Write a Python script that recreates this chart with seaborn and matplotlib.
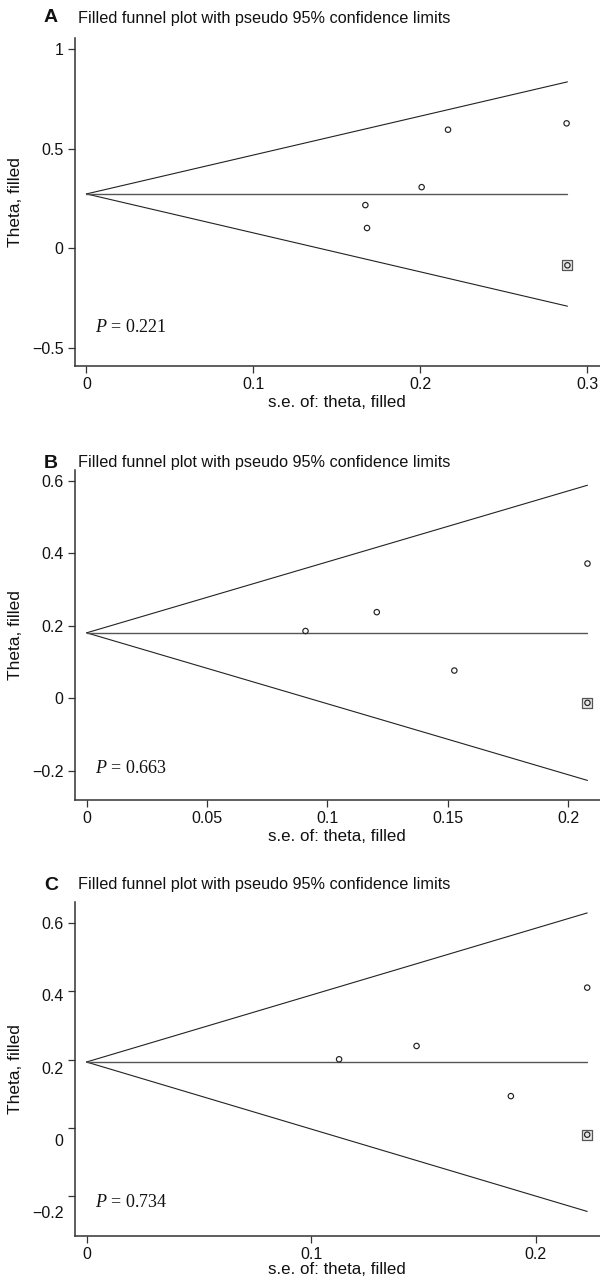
import matplotlib
matplotlib.use("Agg")
import matplotlib.pyplot as plt
import matplotlib.transforms as mtransforms
import pandas as pd
import seaborn as sns

# panel letters and P values
panel_letters = ["A", "B", "C"]
p_values = ["0.221", "0.663", "0.734"]

# observed studies (se, theta)
a_se = [0.167, 0.168, 0.2007, 0.2165, 0.2875]
a_theta = [0.217, 0.102, 0.307, 0.595, 0.627]
b_se = [0.0909, 0.1205, 0.1527, 0.208]
b_theta = [0.186, 0.238, 0.077, 0.372]
c_se = [0.1125, 0.147, 0.189, 0.223]
c_theta = [0.201, 0.240, 0.093, 0.411]

# filled (imputed) studies
a_fill_se, a_fill_theta = [0.288], [-0.085]
b_fill_se, b_fill_theta = [0.208], [-0.012]
c_fill_se, c_fill_theta = [0.223], [-0.02]

# pseudo 95% limits: endpoints
a_funnel_se = [0.0, 0.288]
a_upper = [0.273, 0.835]
a_lower = [0.273, -0.29]
a_center = [0.273, 0.273]
b_funnel_se = [0.0, 0.208]
b_upper = [0.181, 0.588]
b_lower = [0.181, -0.226]
b_center = [0.181, 0.181]
c_funnel_se = [0.0, 0.223]
c_upper = [0.193, 0.63]
c_lower = [0.193, -0.245]
c_center = [0.193, 0.193]

# axis ticks
a_xticks = [0, 0.1, 0.2, 0.3]
a_yticks = [-0.5, 0, 0.5, 1]
a_yticklabels = ["\u22120.5", "0", "0.5", "1"]
b_xticks = [0, 0.05, 0.1, 0.15, 0.2]
b_yticks = [-0.2, 0, 0.2, 0.4, 0.6]
b_yticklabels = ["\u22120.2", "0", "0.2", "0.4", "0.6"]
c_xticks = [0, 0.1, 0.2]
c_yticks = [-0.2, 0, 0.2, 0.4, 0.6]
c_yticklabels = ["\u22120.2", "0", "0.2", "0.4", "0.6"]

sns.set_theme(style="ticks")
plt.rcParams["font.family"] = ["Liberation Sans", "DejaVu Sans"]
plt.rcParams["mathtext.fontset"] = "custom"
plt.rcParams["mathtext.it"] = "Liberation Serif:italic"
plt.rcParams["mathtext.rm"] = "Liberation Serif"

W, H = 600, 1280
fig = plt.figure(figsize=(W / 100, H / 100), dpi=100)
fig.patch.set_facecolor("white")

panels = [
    dict(se=a_se, th=a_theta, fse=a_fill_se, fth=a_fill_theta, fx=a_funnel_se,
         up=a_upper, lo=a_lower, ce=a_center, xt=a_xticks, yt=a_yticks, ytl=a_yticklabels,
         top=38, bottom=366, xlim=(-0.0071, 0.3075), ylim=(-0.59, 1.055),
         title_y=18, p_y=0.116, label_shift=None, xpad=2),
    dict(se=b_se, th=b_theta, fse=b_fill_se, fth=b_fill_theta, fx=b_funnel_se,
         up=b_upper, lo=b_lower, ce=b_center, xt=b_xticks, yt=b_yticks, ytl=b_yticklabels,
         top=470, bottom=800, xlim=(-0.005, 0.2132), ylim=(-0.28, 0.63),
         title_y=463, p_y=0.094, label_shift=None, xpad=2),
    dict(se=c_se, th=c_theta, fse=c_fill_se, fth=c_fill_theta, fx=c_funnel_se,
         up=c_upper, lo=c_lower, ce=c_center, xt=c_xticks, yt=c_yticks, ytl=c_yticklabels,
         top=902, bottom=1236, xlim=(-0.0053, 0.2287), ylim=(-0.317, 0.662),
         title_y=885, p_y=0.10, label_shift=[16, 12, 8, 4, 0], xpad=0),
]

left_px = 74.6
for letter, pval, p in zip(panel_letters, p_values, panels):
    ax = fig.add_axes([left_px / W, 1 - p["bottom"] / H,
                       (W - left_px) / W, (p["bottom"] - p["top"]) / H])
    ax.set_facecolor("white")

    lines = pd.DataFrame({"se": p["fx"] * 3,
                          "theta": p["up"] + p["lo"] + p["ce"],
                          "part": ["upper"] * 2 + ["lower"] * 2 + ["center"] * 2})
    sns.lineplot(data=lines[lines.part != "center"], x="se", y="theta", units="part",
                 estimator=None, color="#222222", lw=0.8, ax=ax)
    sns.lineplot(data=lines[lines.part == "center"], x="se", y="theta",
                 estimator=None, color="#555555", lw=1.0, ax=ax)

    sns.scatterplot(x=p["fse"], y=p["fth"], marker="s", s=42, facecolor="#e8e8e8",
                    edgecolor="#555555", linewidth=0.9, ax=ax, zorder=3)
    sns.scatterplot(x=p["se"] + p["fse"], y=p["th"] + p["fth"], marker="o", s=15,
                    facecolor="none", edgecolor="#222222", linewidth=0.85, ax=ax, zorder=4)

    ax.set_xlim(*p["xlim"])
    ax.set_ylim(*p["ylim"])
    ax.set_xticks(p["xt"])
    ax.set_xticklabels([f"{v:g}" for v in p["xt"]])
    ax.set_yticks(p["yt"])
    ax.set_yticklabels(p["ytl"])
    ax.tick_params(axis="both", length=5, width=0.9, color="#333333",
                   labelsize=11.5, labelcolor="#111111", pad=3)
    if p["label_shift"]:
        for lab, dy in zip(ax.get_yticklabels(), p["label_shift"]):
            off = mtransforms.ScaledTranslation(0, -dy / 100, fig.dpi_scale_trans)
            lab.set_transform(lab.get_transform() + off)

    for side in ["top", "right"]:
        ax.spines[side].set_visible(False)
    for side in ["left", "bottom"]:
        ax.spines[side].set_color("#333333")
        ax.spines[side].set_linewidth(1.1)

    ax.set_xlabel("s.e. of: theta, filled", fontsize=12.2, color="#111111", labelpad=p["xpad"])
    ax.set_ylabel("Theta, filled", fontsize=12.5, color="#111111")
    ax.yaxis.set_label_coords(-0.098, 0.5)

    ax.text(0.039, p["p_y"], "$P$ = " + pval, transform=ax.transAxes, ha="left", va="center",
            fontsize=13, family=["Liberation Serif", "DejaVu Serif"], color="#111111")

    fig.text(44 / W, 1 - p["title_y"] / H, letter, fontsize=14, fontweight="bold",
             ha="left", va="center", color="#111111")
    fig.text(78 / W, 1 - p["title_y"] / H, "Filled funnel plot with pseudo 95% confidence limits",
             fontsize=11.7, ha="left", va="center", color="#111111")

fig.savefig("out.png", dpi=100, facecolor="white")
